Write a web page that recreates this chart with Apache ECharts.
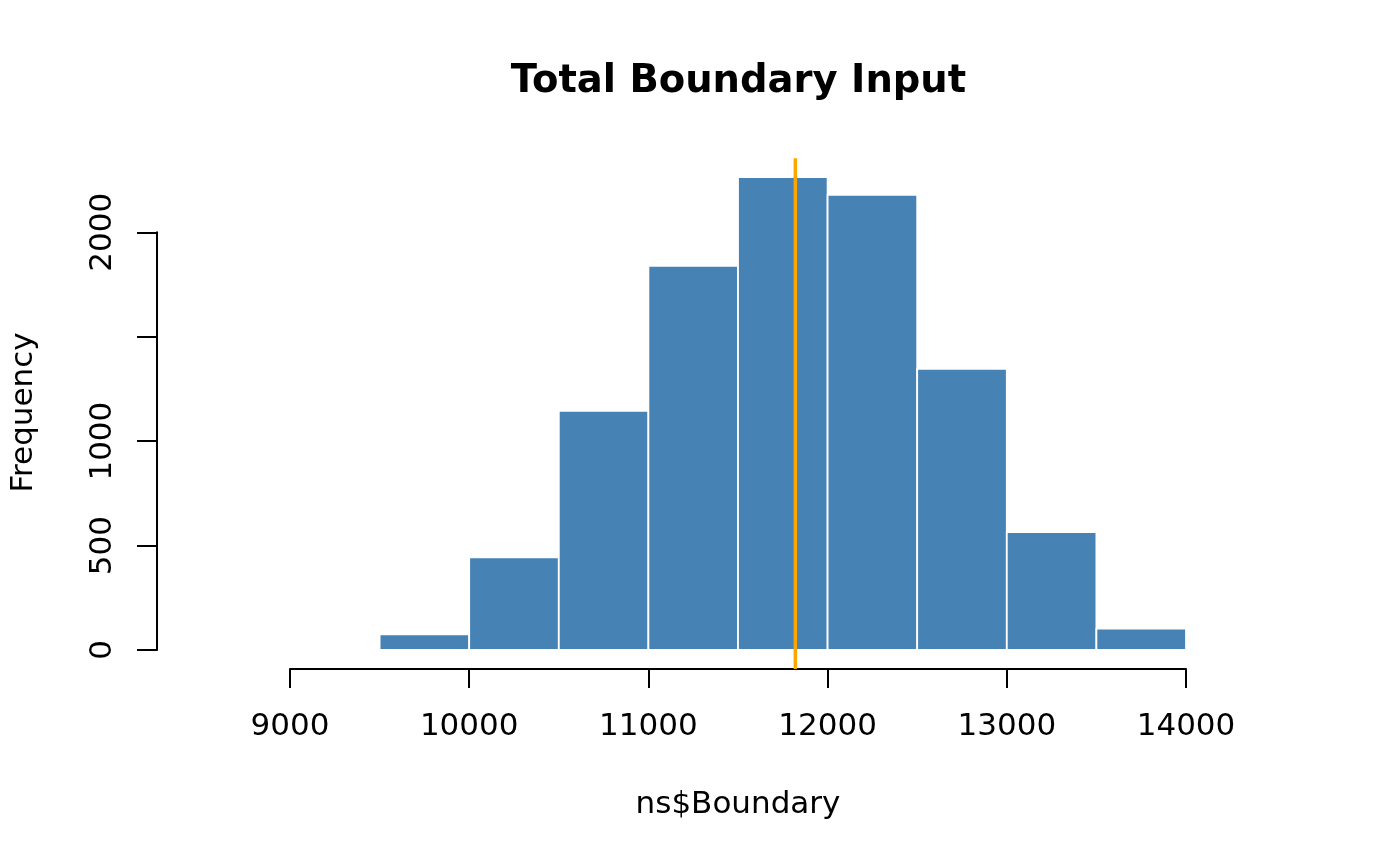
<!DOCTYPE html>
<html>
<head>
<meta charset="utf-8">
<script src="https://cdn.jsdelivr.net/npm/echarts@6/dist/echarts.min.js"></script>
<style>
html,body{margin:0;padding:0;background:#fff;}
#c{width:1400px;height:865px;}
</style>
</head>
<body>
<div id="c"></div>
<script>
// ---- data ----
const binStarts = [9500, 10000, 10500, 11000, 11500, 12000, 12500, 13000, 13500];
const binEnds   = [10000, 10500, 11000, 11500, 12000, 12500, 13000, 13500, 14000];
const counts    = [75, 444, 1145, 1839, 2264, 2179, 1346, 564, 102];
const meanValue = [11820];
const xTicks = ['9000', '10000', '11000', '12000', '13000', '14000'];
const yTickLabels = ['0', '500', '1000', '', '2000'];
const titleText = 'Total Boundary Input';
const xLabel = 'ns$Boundary';
const yLabel = 'Frequency';

const FONT = 'DejaVu Sans';
const maxCount = Math.max.apply(null, counts);
const barData = binStarts.map((s, i) => [s, binEnds[i], counts[i]]);

const chart = echarts.init(document.getElementById('c'), null, {renderer: 'canvas'});
chart.setOption({
  animation: false,
  backgroundColor: '#ffffff',
  title: {
    text: titleText,
    left: 733.5,
    textAlign: 'center',
    top: 57,
    textStyle: {fontFamily: FONT, fontSize: 38.5, fontWeight: 'bold', color: '#000'}
  },
  grid: {left: 290, width: 896, top: 232.3, height: 417.7, containLabel: false},
  xAxis: {
    type: 'value',
    min: 9000, max: 14000, interval: 1000,
    offset: 19,
    axisLine: {onZero: false, lineStyle: {color: '#000', width: 2}},
    axisTick: {show: true, inside: false, length: 19, lineStyle: {color: '#000', width: 2}},
    axisLabel: {
      margin: 42, fontFamily: FONT, fontSize: 31, color: '#000',
      formatter: function (v) { const i = Math.round((v - 9000) / 1000); return xTicks[i] !== undefined ? xTicks[i] : ''; }
    },
    splitLine: {show: false},
    name: xLabel,
    nameLocation: 'middle',
    nameGap: 120,
    nameTextStyle: {fontFamily: FONT, fontSize: 31, color: '#000'}
  },
  yAxis: {
    type: 'value',
    min: 0, max: 2000, interval: 500,
    offset: 133,
    axisLine: {show: true, lineStyle: {color: '#000', width: 2}},
    axisTick: {show: true, inside: false, length: 20, lineStyle: {color: '#000', width: 2}},
    axisLabel: {
      rotate: 90, margin: 39, fontFamily: FONT, fontSize: 31, color: '#000',
      formatter: function (v) { const i = Math.round(v / 500); return yTickLabels[i] !== undefined ? yTickLabels[i] : ''; }
    },
    splitLine: {show: false}
  },
  graphic: [{
    type: 'text',
    x: 24, y: 412.5,
    rotation: Math.PI / 2,
    style: {text: yLabel, fontFamily: FONT, fontSize: 31, fill: '#000', textAlign: 'center', textVerticalAlign: 'middle'}
  }],
  series: [{
    type: 'custom',
    clip: false,
    data: barData,
    encode: {x: [0, 1], y: 2},
    renderItem: function (params, api) {
      const p0 = api.coord([api.value(0), api.value(2)]);
      const p1 = api.coord([api.value(1), 0]);
      return {
        type: 'rect',
        shape: {x: p0[0], y: p0[1], width: p1[0] - p0[0], height: p1[1] - p0[1]},
        style: {fill: '#4682B4', stroke: '#ffffff', lineWidth: 1.8}
      };
    }
  }, {
    type: 'custom',
    clip: false,
    data: meanValue.map(v => [v]),
    encode: {x: 0},
    z: 5,
    renderItem: function (params, api) {
      const top = api.coord([api.value(0), maxCount * 1.04]);
      const bot = api.coord([api.value(0), -maxCount * 0.04]);
      return {
        type: 'line',
        shape: {x1: top[0], y1: top[1], x2: bot[0], y2: bot[1]},
        style: {stroke: '#FFA500', lineWidth: 3.5}
      };
    }
  }]
});
</script>
</body>
</html>
